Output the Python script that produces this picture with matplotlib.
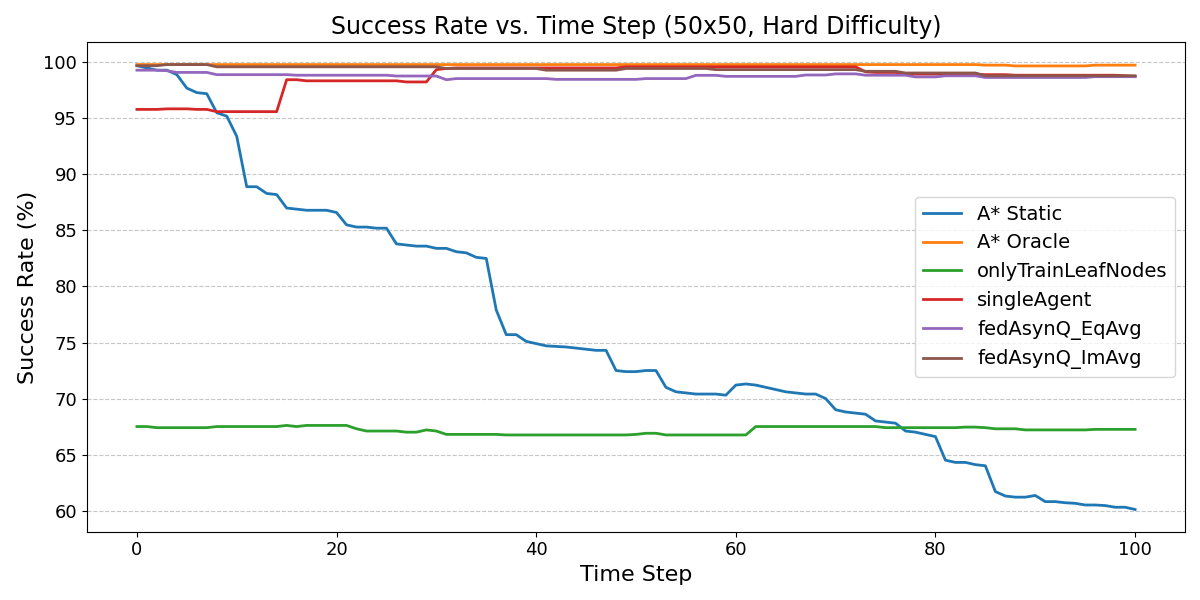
import matplotlib.pyplot as plt

# time steps 0..100
steps = list(range(101))

a_star_static = [
    99.7, 99.5, 99.3, 99.3, 98.9, 97.7, 97.3, 97.2, 95.5, 95.2,
    93.4, 88.9, 88.9, 88.3, 88.2, 87.0, 86.9, 86.8, 86.8, 86.8,
    86.6, 85.5, 85.3, 85.3, 85.2, 85.2, 83.8, 83.7, 83.6, 83.6,
    83.4, 83.4, 83.1, 83.0, 82.6, 82.5, 77.9, 75.7, 75.7, 75.1,
    74.9, 74.7, 74.65, 74.6, 74.5, 74.4, 74.3, 74.3, 72.5, 72.4,
    72.4, 72.5, 72.5, 71.0, 70.6, 70.5, 70.4, 70.4, 70.4, 70.3,
    71.2, 71.3, 71.2, 71.0, 70.8, 70.6, 70.5, 70.4, 70.4, 70.0,
    69.0, 68.8, 68.7, 68.6, 68.0, 67.9, 67.8, 67.1, 67.0, 66.8,
    66.6, 64.5, 64.3, 64.3, 64.1, 64.0, 61.7, 61.3, 61.2, 61.2,
    61.35, 60.8, 60.8, 60.7, 60.65, 60.5, 60.5, 60.45, 60.3, 60.3,
    60.1,
]

a_star_oracle = [
    99.8, 99.8, 99.8, 99.8, 99.8, 99.8, 99.8, 99.8, 99.8, 99.8,
    99.8, 99.8, 99.8, 99.8, 99.8, 99.8, 99.8, 99.8, 99.8, 99.8,
    99.8, 99.8, 99.8, 99.8, 99.8, 99.8, 99.8, 99.8, 99.8, 99.8,
    99.8, 99.8, 99.8, 99.8, 99.8, 99.8, 99.8, 99.8, 99.8, 99.8,
    99.8, 99.8, 99.8, 99.8, 99.8, 99.8, 99.8, 99.8, 99.8, 99.8,
    99.8, 99.8, 99.8, 99.8, 99.8, 99.8, 99.8, 99.8, 99.8, 99.8,
    99.8, 99.8, 99.8, 99.8, 99.8, 99.8, 99.8, 99.8, 99.8, 99.8,
    99.8, 99.8, 99.8, 99.8, 99.8, 99.8, 99.8, 99.8, 99.8, 99.8,
    99.8, 99.8, 99.8, 99.8, 99.8, 99.75, 99.75, 99.75, 99.68, 99.68,
    99.68, 99.68, 99.68, 99.68, 99.68, 99.68, 99.75, 99.75, 99.75, 99.75,
    99.75,
]

only_train_leaf = [
    67.5, 67.5, 67.4, 67.4, 67.4, 67.4, 67.4, 67.4, 67.5, 67.5,
    67.5, 67.5, 67.5, 67.5, 67.5, 67.6, 67.5, 67.6, 67.6, 67.6,
    67.6, 67.6, 67.3, 67.1, 67.1, 67.1, 67.1, 67.0, 67.0, 67.2,
    67.1, 66.8, 66.8, 66.8, 66.8, 66.8, 66.8, 66.75, 66.75, 66.75,
    66.75, 66.75, 66.75, 66.75, 66.75, 66.75, 66.75, 66.75, 66.75, 66.75,
    66.8, 66.9, 66.9, 66.75, 66.75, 66.75, 66.75, 66.75, 66.75, 66.75,
    66.75, 66.75, 67.5, 67.5, 67.5, 67.5, 67.5, 67.5, 67.5, 67.5,
    67.5, 67.5, 67.5, 67.5, 67.5, 67.4, 67.4, 67.4, 67.4, 67.4,
    67.4, 67.4, 67.4, 67.45, 67.45, 67.4, 67.3, 67.3, 67.3, 67.2,
    67.2, 67.2, 67.2, 67.2, 67.2, 67.2, 67.25, 67.25, 67.25, 67.25,
    67.25,
]

single_agent = [
    95.8, 95.8, 95.8, 95.85, 95.85, 95.85, 95.8, 95.8, 95.6, 95.6,
    95.6, 95.6, 95.6, 95.6, 95.6, 98.45, 98.45, 98.35, 98.35, 98.35,
    98.35, 98.35, 98.35, 98.35, 98.35, 98.35, 98.35, 98.25, 98.25, 98.25,
    99.35, 99.45, 99.5, 99.5, 99.5, 99.5, 99.5, 99.5, 99.5, 99.5,
    99.5, 99.5, 99.5, 99.5, 99.5, 99.5, 99.5, 99.5, 99.5, 99.6,
    99.6, 99.6, 99.6, 99.6, 99.6, 99.6, 99.6, 99.6, 99.6, 99.6,
    99.6, 99.6, 99.6, 99.6, 99.6, 99.6, 99.6, 99.6, 99.6, 99.6,
    99.6, 99.6, 99.6, 99.15, 99.1, 99.1, 99.1, 98.95, 98.95, 98.95,
    98.95, 98.95, 98.95, 98.95, 98.95, 98.9, 98.9, 98.9, 98.85, 98.85,
    98.85, 98.85, 98.85, 98.85, 98.85, 98.85, 98.85, 98.85, 98.85, 98.8,
    98.75,
]

fed_eq_avg = [
    99.3, 99.3, 99.3, 99.25, 99.1, 99.1, 99.1, 99.1, 98.9, 98.9,
    98.9, 98.9, 98.9, 98.9, 98.9, 98.9, 98.85, 98.85, 98.85, 98.85,
    98.85, 98.85, 98.85, 98.85, 98.85, 98.85, 98.78, 98.78, 98.78, 98.78,
    98.78, 98.45, 98.55, 98.55, 98.55, 98.55, 98.55, 98.55, 98.55, 98.55,
    98.55, 98.55, 98.48, 98.48, 98.48, 98.48, 98.48, 98.48, 98.48, 98.48,
    98.48, 98.55, 98.55, 98.55, 98.55, 98.55, 98.84, 98.84, 98.84, 98.75,
    98.75, 98.75, 98.75, 98.75, 98.75, 98.75, 98.75, 98.87, 98.87, 98.87,
    98.97, 98.97, 98.97, 98.85, 98.85, 98.85, 98.85, 98.85, 98.7, 98.7,
    98.7, 98.8, 98.8, 98.8, 98.8, 98.65, 98.65, 98.65, 98.65, 98.65,
    98.65, 98.65, 98.65, 98.65, 98.65, 98.65, 98.72, 98.72, 98.72, 98.72,
    98.72,
]

fed_im_avg = [
    99.7, 99.7, 99.7, 99.8, 99.8, 99.8, 99.8, 99.8, 99.6, 99.6,
    99.6, 99.6, 99.6, 99.6, 99.6, 99.6, 99.6, 99.6, 99.6, 99.6,
    99.6, 99.6, 99.6, 99.6, 99.6, 99.6, 99.6, 99.6, 99.6, 99.6,
    99.6, 99.45, 99.45, 99.45, 99.45, 99.45, 99.45, 99.45, 99.45, 99.45,
    99.45, 99.3, 99.3, 99.3, 99.3, 99.3, 99.3, 99.3, 99.3, 99.45,
    99.45, 99.45, 99.45, 99.45, 99.45, 99.45, 99.45, 99.45, 99.35, 99.35,
    99.35, 99.35, 99.35, 99.35, 99.35, 99.35, 99.35, 99.35, 99.35, 99.35,
    99.35, 99.35, 99.35, 99.2, 99.2, 99.2, 99.2, 99.05, 99.05, 99.05,
    99.05, 99.05, 99.05, 99.05, 99.05, 98.8, 98.8, 98.8, 98.8, 98.8,
    98.8, 98.8, 98.8, 98.8, 98.8, 98.8, 98.8, 98.8, 98.8, 98.8,
    98.8,
]

series = [
    ('A* Static', a_star_static),
    ('A* Oracle', a_star_oracle),
    ('onlyTrainLeafNodes', only_train_leaf),
    ('singleAgent', single_agent),
    ('fedAsynQ_EqAvg', fed_eq_avg),
    ('fedAsynQ_ImAvg', fed_im_avg),
]

fig, ax = plt.subplots(figsize=(12, 6), dpi=100)

for name, vals in series:
    ax.plot(steps, vals, label=name, linewidth=2)

ax.set_title('Success Rate vs. Time Step (50x50, Hard Difficulty)', fontsize=17)
ax.set_xlabel('Time Step', fontsize=16)
ax.set_ylabel('Success Rate (%)', fontsize=16)
ax.tick_params(axis='both', labelsize=13)
ax.grid(axis='y', linestyle='--', alpha=0.7)
ax.legend(loc='center right', fontsize=14)

plt.tight_layout()
plt.subplots_adjust(left=0.0725)
plt.savefig('out.png')
